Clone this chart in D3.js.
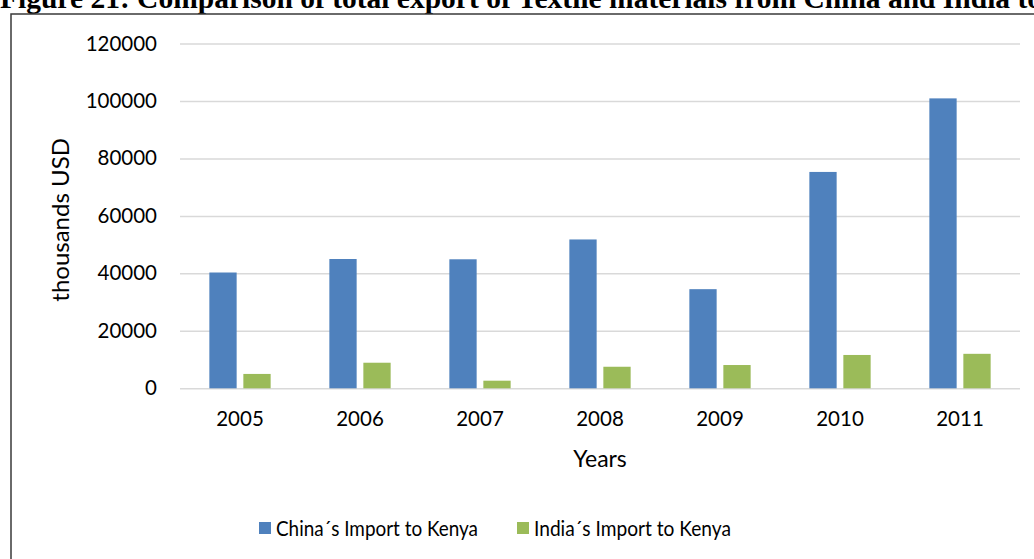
<!DOCTYPE html>
<html>
<head>
<meta charset="utf-8">
<script src="https://cdn.jsdelivr.net/npm/d3@7"></script>
<style>
  html, body { margin: 0; padding: 0; background: #fff; overflow: hidden; }
  svg { display: block; }
</style>
</head>
<body>
<svg id="chart" width="1034" height="559"></svg>
<script>
// Textile imports to Kenya, thousands USD
const years = ["2005", "2006", "2007", "2008", "2009", "2010", "2011"];
const chinaImports = [40300, 45000, 44900, 51800, 34500, 75300, 100900];
const indiaImports = [5000, 8900, 2650, 7500, 8100, 11600, 12000];
const seriesNames = ["China\u00b4s Import to Kenya", "India\u00b4s Import to Kenya"];
const seriesColors = ["#4F81BD", "#9BBB59"];
const yTicks = [0, 20000, 40000, 60000, 80000, 100000, 120000];

const svg = d3.select("#chart");
const font = "Lato, 'Open Sans', sans-serif";

// Caption above the figure frame
svg.append("text")
  .attr("x", 0).attr("y", 8)
  .attr("font-family", "'Liberation Serif', 'Times New Roman', serif")
  .attr("font-weight", "bold")
  .attr("font-size", 29.5)
  .attr("fill", "#000")
  .text("Figure 21: Comparison of total export of Textile materials from China and India to Kenya");

// Chart frame
svg.append("rect")
  .attr("x", 11).attr("y", 14)
  .attr("width", 1100).attr("height", 600)
  .attr("fill", "#fff")
  .attr("stroke", "#3a3a3a")
  .attr("stroke-width", 1.5);

const plot = { left: 180, right: 1020, top: 43.5, bottom: 388.3 };

const x = d3.scaleBand().domain(years).range([plot.left, plot.right]);
const y = d3.scaleLinear().domain([0, 120000]).range([plot.bottom, plot.top]);

const barW = 27.3, barGap = 6.7;
const xs = d3.scaleBand().domain([0, 1])
  .range([0, barW * 2 + barGap]).paddingInner(barGap / (barW + barGap));

// Horizontal gridlines and value labels
const yAxis = d3.axisLeft(y).tickValues(yTicks).tickSize(-(plot.right - plot.left)).tickPadding(23)
  .tickFormat(d3.format("d"));
const gy = svg.append("g").attr("transform", `translate(${plot.left},0)`).call(yAxis);
gy.select(".domain").remove();
gy.selectAll(".tick line").attr("stroke", "#D9D9D9").attr("stroke-width", 1.5);
gy.selectAll(".tick text")
  .attr("font-family", font).attr("font-size", 20.5).attr("fill", "#000");

// Bars
const data = years.map((yr, i) => ({ year: yr, values: [chinaImports[i], indiaImports[i]] }));
const groups = svg.append("g").selectAll("g").data(data).join("g")
  .attr("transform", d => `translate(${x(d.year) + x.bandwidth() / 2 - (barW * 2 + barGap) / 2},0)`);
groups.selectAll("rect").data(d => d.values.map((v, k) => ({ v, k }))).join("rect")
  .attr("x", d => xs(d.k))
  .attr("width", xs.bandwidth())
  .attr("y", d => y(d.v))
  .attr("height", d => y(0) - y(d.v))
  .attr("fill", d => seriesColors[d.k]);

// Year labels
const xAxis = d3.axisBottom(x).tickSize(0).tickPadding(23);
const gx = svg.append("g").attr("transform", `translate(0,${plot.bottom})`).call(xAxis);
gx.select(".domain").remove();
gx.selectAll(".tick text")
  .attr("font-family", font).attr("font-size", 20.5).attr("fill", "#000");

// Axis titles
svg.append("text")
  .attr("x", 600).attr("y", 467)
  .attr("text-anchor", "middle")
  .attr("font-family", font).attr("font-size", 23).attr("fill", "#000")
  .text("Years");

svg.append("text")
  .attr("transform", `translate(69,${(plot.top + plot.bottom) / 2 + 4}) rotate(-90)`)
  .attr("text-anchor", "middle")
  .attr("font-family", font).attr("font-size", 24).attr("fill", "#000")
  .text("thousands USD");

// Legend
const legendX = [259, 517];
const legendTextW = [202, 197];
const legend = svg.append("g").selectAll("g").data(seriesNames).join("g")
  .attr("transform", (d, i) => `translate(${legendX[i]},522)`);
legend.append("rect").attr("width", 12).attr("height", 12)
  .attr("fill", (d, i) => seriesColors[i]);
legend.append("text")
  .attr("x", 17).attr("y", 14)
  .attr("font-family", font).attr("font-size", 21).attr("fill", "#000")
  .attr("textLength", (d, i) => legendTextW[i])
  .attr("lengthAdjust", "spacingAndGlyphs")
  .text(d => d);
</script>
</body>
</html>
